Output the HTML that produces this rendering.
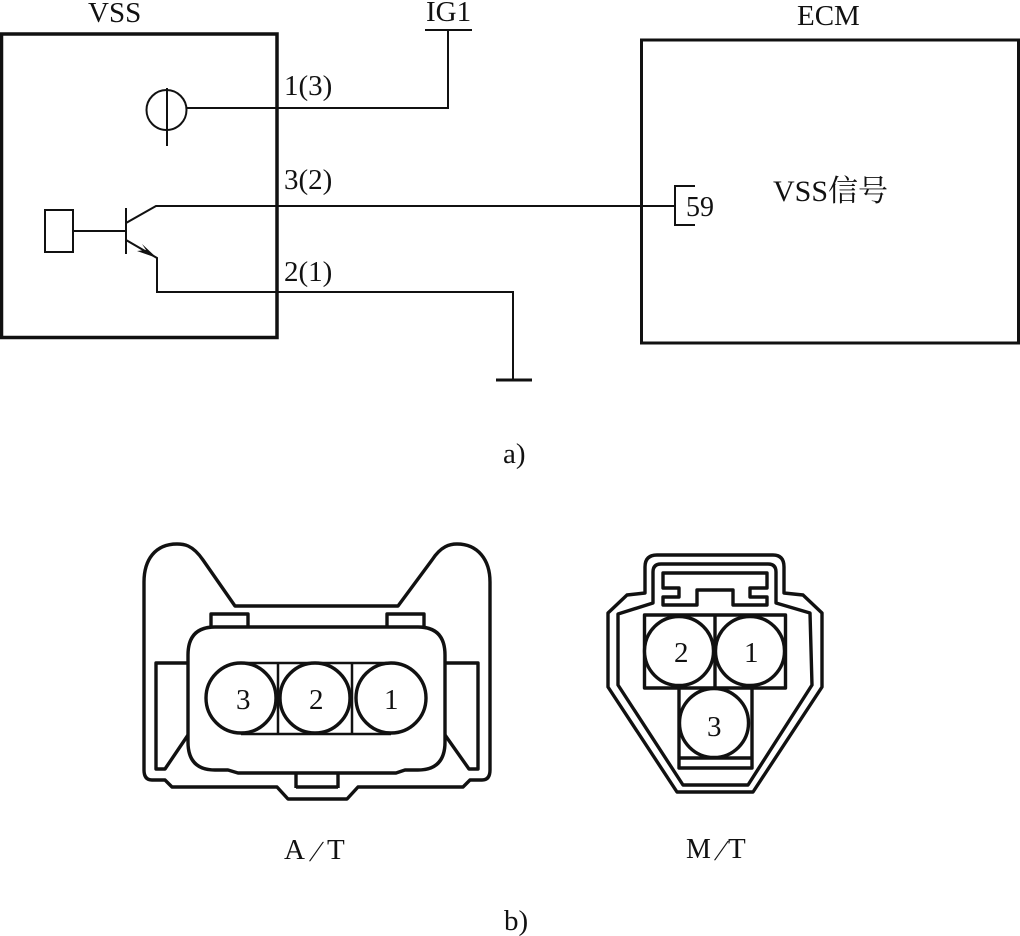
<!DOCTYPE html>
<html>
<head>
<meta charset="utf-8">
<style>
html,body{margin:0;padding:0;background:#fff}
svg{display:block}
text{font-family:"Liberation Serif","Noto Serif CJK SC",serif;fill:#111;font-size:29px}
</style>
</head>
<body>
<svg width="1020" height="936" viewBox="0 0 1020 936" xmlns="http://www.w3.org/2000/svg">
<g fill="none" stroke="#111" stroke-width="2">
<rect x="1.5" y="34" width="275.5" height="303.5" stroke-width="3.500"/>
<rect x="641.5" y="40" width="377" height="303" stroke-width="3"/>
<circle cx="166.500" cy="110" r="20"/>
<path d="M167 88V146"/>
<path d="M187 108H448V30M425 30H472"/>
<rect x="45" y="210" width="28" height="42"/>
<path d="M73 231H126M126 208V254" />
<path d="M126 223L156 206H675M695 186H675V225H695"/>
<path d="M126 240L157 258V292H513V380"/>
<path d="M496 380H532" stroke-width="3"/>
</g>
<path d="M157 258L142 244L146 250L137 251Z" fill="#111"/>
<text x="88" y="22">VSS</text>
<text x="797" y="25">ECM</text>
<text x="426" y="21">IG1</text>
<text x="284" y="95">1(3)</text>
<text x="284" y="189">3(2)</text>
<text x="284" y="281">2(1)</text>
<text x="686" y="216" style="font-size:28px">59</text>
<text x="773" y="201" style="font-size:30px">VSS信号</text>
<text x="503" y="463">a)</text>
<text x="504" y="930">b)</text>
<text x="284" y="859">A</text>
<text transform="translate(309,861) skewX(-20)">/</text>
<text x="327" y="859">T</text>
<text x="686" y="858" style="font-size:28px">M</text>
<text transform="translate(714,860) skewX(-20)">/</text>
<text x="728" y="858">T</text>

<g fill="none" stroke="#111" stroke-width="3.400" stroke-linejoin="round">
<path d="M235 606L203 560C192 544 183 544 177 544C155 544 144 560 144 582V770Q144 780 152 780H165L172 787H277L288 799H347L358 787H463L470 780H482Q490 780 490 770V582C490 560 478 544 457 544C450 544 441 546 432 560L398 606Z"/>
<path d="M211 627V614H248V627M387 627V614H424V627"/>
<path d="M296 773V788M338 773V788M296 787H338"/>
<path d="M188 663H156V769H165L188 735M445 663H478V769H469L445 735"/>
<path d="M215 627H418Q445 627 445 655V742Q445 770 418 770H405L396 773H238L228 770H215Q188 770 188 742V655Q188 627 215 627Z"/>
<path d="M241 663H391M241 734H391M278 663V734M352 663V734" stroke-width="2.500"/>
<circle cx="241" cy="698" r="35" fill="#fff"/>
<circle cx="315" cy="698" r="35" fill="#fff"/>
<circle cx="391" cy="698" r="35" fill="#fff"/>

<path d="M645 593V567Q645 555 657 555H773Q784 555 784 567V593L803 595L822 613V687L753 792H677L608 687V613L627 595Z"/>
<path d="M653 603V572Q653 564 661 564H768Q776 564 776 572V603L810 613L812 685L748 785H683L618 685V614Z"/>
<path d="M663 573H767V588H750V597H767V605H733V590H697V605H663V597H679V588H663Z"/>
<rect x="644.500" y="615" width="141" height="73"/>
<path d="M715 615V688M679 688V768H752V688M679 758H752"/>
<circle cx="679" cy="651" r="34.500" fill="#fff"/>
<circle cx="750" cy="651" r="34.500" fill="#fff"/>
<circle cx="714" cy="723" r="34.500" fill="#fff"/>
</g>
<text x="236" y="709">3</text>
<text x="309" y="709">2</text>
<text x="384" y="709">1</text>
<text x="674" y="662">2</text>
<text x="744" y="662">1</text>
<text x="707" y="736">3</text>
</svg>
</body>
</html>
